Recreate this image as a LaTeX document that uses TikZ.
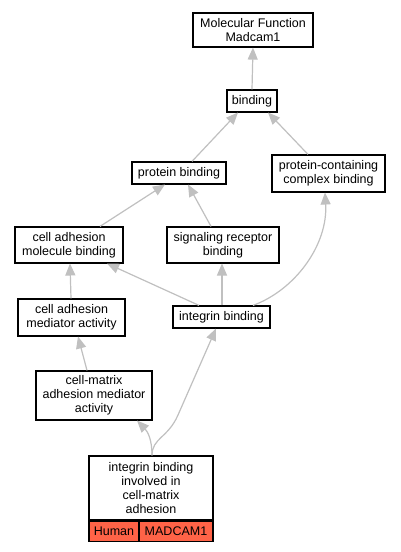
\documentclass[tikz,border=0pt]{standalone}
\usepackage{fontspec}
\setmainfont{Liberation Sans}
\usetikzlibrary{arrows.meta}
\definecolor{edgegray}{RGB}{192,192,192}
\definecolor{tomato}{RGB}{255,99,71}
\begin{document}
\begin{tikzpicture}[x=1pt,y=-1pt,
  term/.style={draw=black,line width=1.2pt,fill=white,align=center,inner sep=0pt,
    font=\fontsize{12.5}{13.8}\selectfont},
  cellbox/.style={draw=black,line width=1.2pt,fill=tomato,inner sep=0pt,
    font=\fontsize{12.5}{13.8}\selectfont},
  edge/.style={draw=edgegray,line width=1.2pt,-{Triangle[length=12pt,width=10pt]}}]
\useasboundingbox (0,0) rectangle (400,552);
\fill[white] (0,0) rectangle (400,552);

\node[term,minimum width=120pt,minimum height=34pt] (mf) at (253,30) {Molecular Function\\Madcam1};
\node[term,minimum width=50pt,minimum height=22pt] (bind) at (252,101) {binding};
\node[term,minimum width=94pt,minimum height=22pt] (pb) at (179,173) {protein binding};
\node[term,minimum width=113pt,minimum height=37pt] (pcb) at (328.5,173.5) {protein-containing\\complex binding};
\node[term,minimum width=108pt,minimum height=36pt] (camb) at (69,245) {cell adhesion\\molecule binding};
\node[term,minimum width=112pt,minimum height=36pt] (srb) at (223,245) {signaling receptor\\binding};
\node[term,minimum width=107pt,minimum height=37pt] (cama) at (71.5,317.5) {cell adhesion\\mediator activity};
\node[term,minimum width=97pt,minimum height=22pt] (ib) at (221.5,317) {integrin binding};
\node[term,minimum width=116pt,minimum height=49pt] (cmama) at (94,395.5) {cell-matrix\\adhesion mediator\\activity};
\node[term,minimum width=124pt,minimum height=64pt] (main) at (151,488) {integrin binding\\involved in\\cell-matrix\\adhesion};
\node[cellbox,minimum width=50pt,minimum height=20pt,anchor=north west] (human) at (main.south west) {Human};
\node[cellbox,minimum width=74pt,minimum height=20pt,anchor=north east] (gene) at (main.south east) {MADCAM1};

\draw[edge] (bind.north) -- (mf.south);
\draw[edge] (pb.north -| 192,0) -- (238,112.5);
\draw[edge] (pcb.north -| 308,0) -- (268,112.5);
\draw[edge] (camb.north -| 100,0) -- (165,184.5);
\draw[edge] (srb.north -| 211,0) -- (188,184.5);
\draw[edge] (ib.north -| 199,0) -- (107,263.5);
\draw[edge] (ib.north -| 222,0) -- (222,263.5);
\draw[edge] (ib.north -| 253,0) .. controls (295,290) and (328,245) .. (325,192.5);
\draw[edge] (cama.north -| 71,0) -- (70,263.5);
\draw[edge] (cmama.north -| 87,0) -- (78,336.5);
\draw[edge] (main.north -| 152,0) .. controls (152,440) and (148,432) .. (137,420.5);
\draw[edge] (main.north -| 152,0) .. controls (152,438) and (168,438) .. (178,415) -- (216,328.5);
\end{tikzpicture}
\end{document}
